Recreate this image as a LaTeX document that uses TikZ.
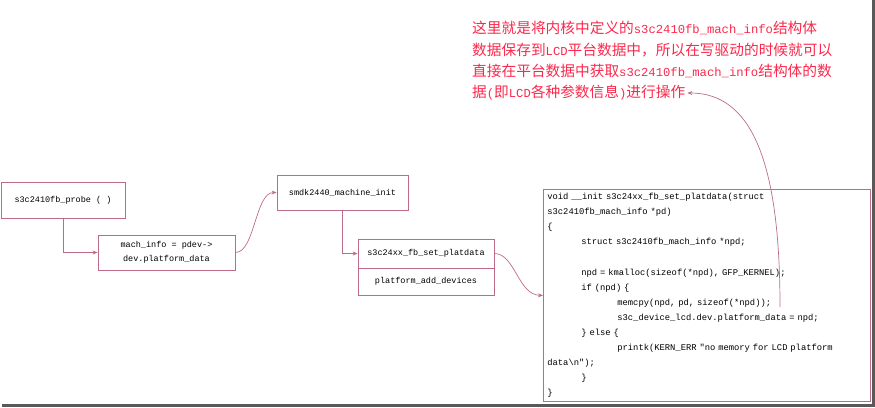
\documentclass[tikz,border=0pt]{standalone}
\usepackage{fontspec}
\usetikzlibrary{arrows.meta}
\newfontfamily\cjk{Noto Sans CJK SC}
\newfontfamily\codefont{Liberation Mono}
\definecolor{boxrose}{RGB}{188,108,138}
\definecolor{notered}{RGB}{252,40,75}
\newcommand{\lat}[1]{{\codefont\fontsize{12.2}{15}\selectfont #1}}

\begin{document}
\begin{tikzpicture}[
    x=1pt, y=-1pt,
    box/.style={rectangle, draw=boxrose, line width=0.8pt, fill=white, align=center, inner sep=0pt, font=\codefont\fontsize{8.5}{14}\selectfont},
    note/.style={anchor=west, inner xsep=2pt, inner ysep=0pt, text=notered, font=\cjk\fontsize{14.7}{15}\selectfont},
    arrow/.style={-{Stealth[length=5pt,width=4pt]}, line width=0.7pt, boxrose}
]
    \useasboundingbox (0,0) rectangle (875,407);
    \fill[black!65] (871.5,0) rectangle (875,407);
    \fill[black!65] (2,403.5) rectangle (875,407);

    \node[box, minimum width=124pt, minimum height=36pt] (probe) at (63,200) {s3c2410fb\_probe ( )};
    \node[box, minimum width=137pt, minimum height=35pt] (info) at (166.5,252.5) {mach\_info = pdev->\\dev.platform\_data};
    \node[box, minimum width=131pt, minimum height=35pt] (init) at (342.5,192.5) {smdk2440\_machine\_init};
    \node[box, minimum width=136pt, minimum height=29pt] (setdata) at (426,253.5) {s3c24xx\_fb\_set\_platdata};
    \node[box, minimum width=136pt, minimum height=27pt] (adddev) at (426,281.5) {platform\_add\_devices};
    \node[box, anchor=north west, minimum width=327pt, minimum height=212pt, text width=319pt, align=left, inner xsep=4pt, font=\codefont\fontsize{8.8}{15.1}\selectfont] (code) at (543,189) {%
void \_\_init s3c24xx\_fb\_set\_platdata(struct\\
s3c2410fb\_mach\_info *pd)\\
\{\\
\hspace*{34pt}struct s3c2410fb\_mach\_info *npd;\\
\mbox{}\\
\hspace*{34pt}npd = kmalloc(sizeof(*npd), GFP\_KERNEL);\\
\hspace*{34pt}if (npd) \{\\
\hspace*{70pt}memcpy(npd, pd, sizeof(*npd));\\
\hspace*{70pt}s3c\_device\_lcd.dev.platform\_data = npd;\\
\hspace*{34pt}\} else \{\\
\hspace*{70pt}printk(KERN\_ERR "no memory for LCD platform\\
data\textbackslash n");\\
\hspace*{34pt}\}\\
\}};

    \node[note] (note1) at (470,28) {这里就是将内核中定义的\lat{s3c2410fb\_mach\_info}结构体};
    \node[note] (note2) at (470,49.7) {数据保存到\lat{LCD}平台数据中，所以在写驱动的时候就可以};
    \node[note] (note3) at (470,71.4) {直接在平台数据中获取\lat{s3c2410fb\_mach\_info}结构体的数};
    \node[note] (note4) at (470,93) {据\lat{(}即\lat{LCD}各种参数信息\lat{)}进行操作};
    \coordinate (memcpyend) at (780,307);

    \draw[arrow] (probe.south) |- (info.west);
    \draw[arrow] (info.east) .. controls (255,252.5) and (255,192.5) .. (init.west);
    \draw[arrow] (init.south) |- (setdata.west);
    \draw[arrow] (setdata.east) .. controls (515,253.5) and (518,295) .. (code.west);
    \draw[arrow] (memcpyend) .. controls (780,170) and (755,93) .. (note4.east);
\end{tikzpicture}
\end{document}
